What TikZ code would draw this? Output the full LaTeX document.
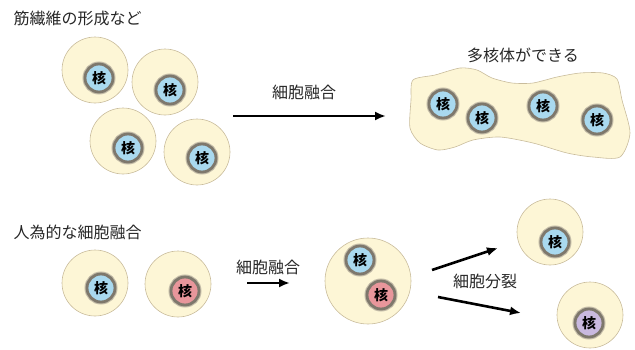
\documentclass[tikz,border=0pt]{standalone}
\usepackage{fontspec}
\setmainfont{Noto Sans CJK JP}
\usetikzlibrary{arrows.meta}
\definecolor{cyto}{HTML}{FDF6D6}
\definecolor{cytoline}{HTML}{C9BC9C}
\definecolor{kakublue}{HTML}{A9D9EF}
\definecolor{kakured}{HTML}{E8969B}
\definecolor{kakuviolet}{HTML}{C9B9DF}
\definecolor{kakuring}{HTML}{7E786C}
\definecolor{kakuhalo}{HTML}{C4BCA8}
\begin{document}
\begin{tikzpicture}[x=1pt,y=-1pt,
  cell/.style={circle,fill=cyto,draw=cytoline,line width=0.6pt,minimum size=66pt,inner sep=0pt},
  kaku/.style={circle,fill=kakublue,draw=kakuring,line width=2.8pt,minimum size=28pt,inner sep=0pt,
    preaction={draw=kakuhalo,line width=5pt},
    font=\fontsize{14}{14}\selectfont\bfseries},
  caption/.style={font=\fontsize{16}{16}\selectfont,text=black!85},
  fuse/.style={-{Latex[length=11pt,width=9pt]},line width=2.6pt}]
\useasboundingbox (0,0) rectangle (635,349);
% muscle fibre formation
\node[caption,anchor=west] (ttop) at (10,18) {筋繊維の形成など};
\node[cell] (c1) at (95,70) {};
\node[kaku] (k1) at (99,78) {核};
\node[cell] (c2) at (165,82) {};
\node[kaku] (k2) at (170,90) {核};
\node[cell] (c3) at (123,141) {};
\node[kaku] (k3) at (128,148) {核};
\node[cell] (c4) at (197,152) {};
\node[kaku] (k4) at (202,158) {核};
\coordinate (f1) at (233,116);
\coordinate (f2) at (386,116);
\draw[fuse] (f1)--(f2);
\node[caption] (lf) at (304,92) {細胞融合};
% multinucleate cell
\node[caption] (lm) at (523,55) {多核体ができる};
\draw[fill=cyto,draw=cytoline,line width=0.6pt] plot[smooth cycle,tension=0.45] coordinates {
  (413,80) (435,75) (460,68) (477,70) (492,78) (512,83) (533,83) (557,77) (580,73)
  (603,73) (617,79) (622,100) (630,133) (620,157) (593,157) (567,153) (533,143)
  (500,137) (473,140) (455,147) (438,150) (420,143) (410,128) (411,100)};
\node[kaku] (m1) at (443,104) {核};
\node[kaku] (m2) at (482,118) {核};
\node[kaku] (m3) at (543,106) {核};
\node[kaku] (m4) at (597,120) {核};
% artificial fusion
\node[caption,anchor=west] (tbot) at (10,232) {人為的な細胞融合};
\node[cell] (ca) at (95,283) {};
\node[kaku] (ka) at (101,288) {核};
\node[cell] (cb) at (178,284) {};
\node[kaku,fill=kakured] (kb) at (185,291) {核};
\node[caption] (la) at (268,267) {細胞融合};
\coordinate (g1) at (247,283);
\coordinate (g2) at (290,283);
\draw[fuse] (g1)--(g2);
\node[cell,minimum size=86pt] (cf) at (368,281) {};
\node[kaku] (kf1) at (360,260) {核};
\node[kaku,fill=kakured] (kf2) at (381,295) {核};
% division
\coordinate (d0) at (432,270);
\coordinate (d1) at (498,248);
\coordinate (e0) at (438,297);
\coordinate (e1) at (521,313);
\draw[fuse] (d0)--(d1);
\draw[fuse] (e0)--(e1);
\node[caption] (ld) at (485,281) {細胞分裂};
\node[cell] (cu) at (550,232) {};
\node[kaku] (ku) at (555,242) {核};
\node[cell] (cd) at (590,315) {};
\node[kaku,fill=kakuviolet] (kd) at (589,323) {核};
\end{tikzpicture}
\end{document}
